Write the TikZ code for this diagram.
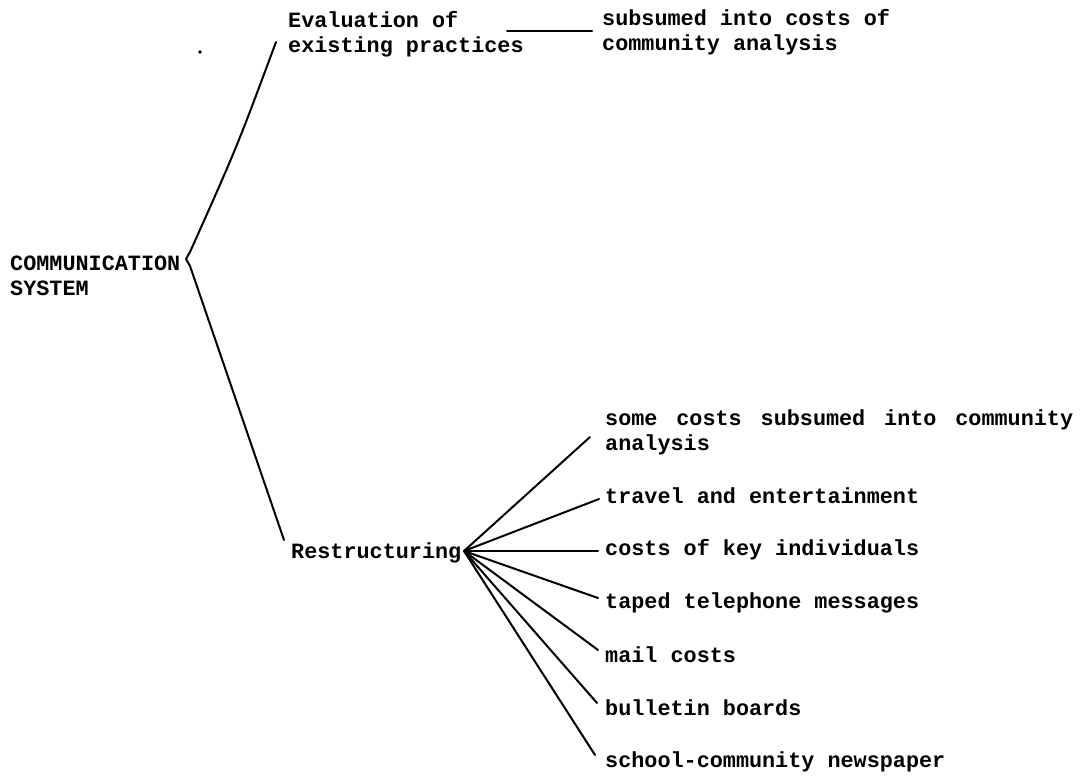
\documentclass[tikz,border=0pt]{standalone}
\usepackage{fontspec}
\setmonofont{Liberation Mono}
\begin{document}
\begin{tikzpicture}[x=1pt,y=-1pt,
  lbl/.style={font=\ttfamily\bfseries\fontsize{21.8}{24.5}\selectfont, inner sep=0pt, anchor=base west, align=left},
  conn/.style={line width=2pt, line cap=round, line join=round}]
\useasboundingbox (0,0) rectangle (1084,777);
% text nodes (base anchor = baseline of the last line)
\node[lbl] (comm) at (10,295) {COMMUNICATION\\SYSTEM};
\node[lbl] (eval) at (288,52) {Evaluation of\\existing practices};
\node[lbl] (subs) at (602,50) {subsumed into costs of\\community analysis};
\node[lbl] (restr) at (291,558) {Restructuring};
\node[lbl] (some) at (605,450) {\makebox[468pt][l]{some\hfill costs\hfill subsumed\hfill into\hfill community}\\analysis};
\node[lbl] (travel) at (605,503) {travel and entertainment};
\node[lbl] (key) at (605,555) {costs of key individuals};
\node[lbl] (taped) at (605,608) {taped telephone messages};
\node[lbl] (mail) at (605,662) {mail costs};
\node[lbl] (bull) at (605,715) {bulletin boards};
\node[lbl] (school) at (605,767) {school-community newspaper};
% stray dot
\fill (200,52) circle (1.8pt);
% connector points
\coordinate (ev) at (276,42);
\coordinate (cv1) at (190,252);
\coordinate (cvn) at (186,259);
\coordinate (cv2) at (190,266);
\coordinate (rw) at (284,540);
\coordinate (e1) at (507,31);
\coordinate (s1) at (592,31);
\coordinate (rv) at (464,551);
\coordinate (t1) at (590,437);
\coordinate (t2) at (599,499);
\coordinate (t3) at (598,551);
\coordinate (t4) at (598,598);
\coordinate (t5) at (598,650);
\coordinate (t6) at (597,703);
\coordinate (t7) at (595,755);
% connectors
\draw[conn] (ev) .. controls (237,147) .. (cv1) -- (cvn) -- (cv2) .. controls (236,400) .. (rw);
\draw[conn] (e1) -- (s1);
\foreach \t in {t1,t2,t3,t4,t5,t6,t7} \draw[conn] (rv) -- (\t);
\end{tikzpicture}
\end{document}
